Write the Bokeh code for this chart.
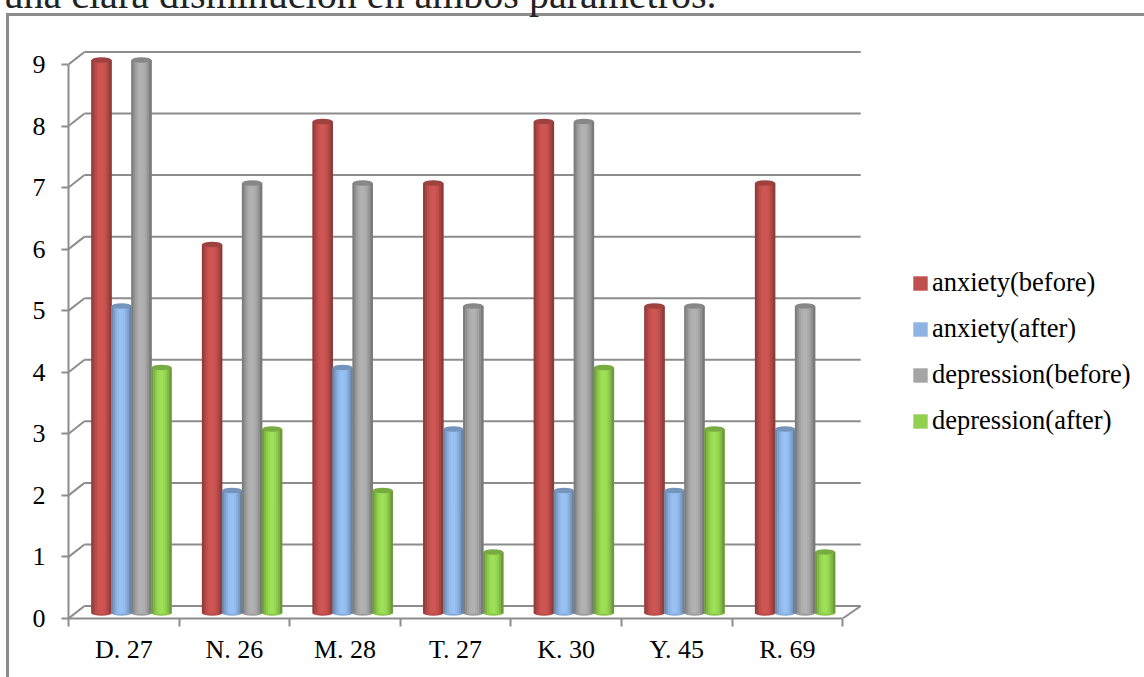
from bokeh.plotting import figure
from bokeh.embed import file_html
from bokeh.resources import INLINE
from bokeh.models import (Range1d, LinearAxis, FixedTicker, Legend, LegendItem,
                          Title, ColumnDataSource)
from bokeh.transform import dodge

categories = ["D. 27", "N. 26", "M. 28", "T. 27", "K. 30", "Y. 45", "R. 69"]
anxiety_before = [9, 6, 8, 7, 8, 5, 7]
anxiety_after = [5, 2, 4, 3, 2, 2, 3]
depression_before = [9, 7, 7, 5, 8, 5, 5]
depression_after = [4, 3, 2, 1, 4, 3, 1]
y_ticks = [0, 1, 2, 3, 4, 5, 6, 7, 8, 9]
title_text = "una clara disminución en ambos parámetros."

UP = 31                   # the canvas starts above the page so only the foot of the title shows
W, H = 1144, 677 + UP
X0, Y0 = 68, 618 + UP     # canvas position of the axes origin
FT = 47                   # top of the plotting frame on the canvas
SX, SY = 110.6, 61.56     # pixels per category / per value
GREY = "#8c8c8c"
FONT = "Liberation Serif"

p = figure(width=W, height=H, output_backend="svg", toolbar_location=None,
           x_axis_type=None, y_axis_type=None,
           min_border_left=X0, min_border_right=0, min_border_top=FT,
           min_border_bottom=H - Y0,
           x_range=Range1d(0, (W - X0) / SX), y_range=Range1d(0, (Y0 - FT) / SY),
           background_fill_alpha=0, border_fill_alpha=0,
           outline_line_color=None)
p.margin = (-UP, 0, 0, 0)
p.grid.visible = False
# the frame of the pasted picture, behind the transparent canvas
p.styles = {"background": f"linear-gradient({GREY},{GREY}) 6px {13 + UP}px/3px 100% no-repeat, "
                          f"linear-gradient({GREY},{GREY}) 6px {13 + UP}px/100% 3px no-repeat"}
p.title = Title(text=title_text, text_font=FONT, text_font_size="40px", text_font_style="normal",
                text_color="#222222", standoff=0, offset=3 - X0, align="left")

# bars stand between the front and back planes: their own scale
p.extra_y_ranges["bars"] = Range1d(-5 / 61.5, (Y0 - FT - 5) / 61.5)

# axes
yaxis = LinearAxis(ticker=FixedTicker(ticks=y_ticks), bounds=(0, 9))
xaxis = LinearAxis(
    ticker=FixedTicker(ticks=[i + 0.5 for i in range(len(categories))],
                       minor_ticks=list(range(len(categories) + 1))),
    bounds=(0, len(categories)),
    major_label_overrides={i + 0.5: c for i, c in enumerate(categories)})
for ax in (xaxis, yaxis):
    ax.axis_line_color = GREY
    ax.axis_line_width = 2
    ax.major_label_text_font = FONT
    ax.major_label_text_font_size = "26px"
    ax.major_label_text_color = "black"
yaxis.major_tick_line_color = GREY
yaxis.major_tick_line_width = 2
yaxis.major_tick_out = 7
yaxis.major_tick_in = 0
yaxis.minor_tick_line_color = None
yaxis.major_label_standoff = 16
xaxis.major_tick_line_color = None
xaxis.major_tick_out = 8
xaxis.major_tick_in = 0
xaxis.minor_tick_line_color = GREY
xaxis.minor_tick_line_width = 2
xaxis.minor_tick_out = 8
xaxis.minor_tick_in = 0
xaxis.major_label_standoff = 8
p.add_layout(xaxis, "below")
p.add_layout(yaxis, "left")

# back wall and floor
DX, DY = 16 / SX, 12.5 / SY
n = len(categories)
p.segment(x0=[0] * len(y_ticks), y0=y_ticks, x1=[DX] * len(y_ticks),
          y1=[v + DY for v in y_ticks], line_color=GREY, line_width=2)
p.segment(x0=[DX] * len(y_ticks), y0=[v + DY for v in y_ticks],
          x1=[n + DX + 2 / SX] * len(y_ticks), y1=[v + DY for v in y_ticks],
          line_color=GREY, line_width=2)
p.segment(x0=[n], y0=[0], x1=[n + DX + 2 / SX], y1=[DY], line_color=GREY, line_width=2)


def mix(c, t):
    """c * t blended channel-wise, t<1 darker, t>1 lighter."""
    r, g, b = [int(c[i:i + 2], 16) for i in (1, 3, 5)]
    f = lambda v: max(0, min(255, int(round(v * t))))
    return "#%02x%02x%02x" % (f(r), f(g), f(b))


series = [("anxiety(before)", anxiety_before, "#c0504d"),
          ("anxiety(after)", anxiety_after, "#8db4e3"),
          ("depression(before)", depression_before, "#a5a5a5"),
          ("depression(after)", depression_after, "#92d050")]

BAR = 20 / SX
START = (91 - X0) / SX
STRIPS = 10
# shading across a cylinder, from left edge to right edge
shade = [0.76, 0.88, 0.98, 1.05, 1.08, 1.08, 1.05, 0.98, 0.88, 0.74]
items = []
for k, (name, vals, col) in enumerate(series):
    src = ColumnDataSource(dict(x=list(range(n)), v=vals, zero=[0] * n))
    cx = START + (k + 0.5) * BAR
    xt = dodge("x", cx, range=p.x_range)
    p.ellipse(x=xt, y="zero", width=BAR, height=4.5 / 61.5, source=src,
              fill_color=mix(col, 0.95), line_color=None, y_range_name="bars")
    base = p.vbar(x=xt, top="v", bottom="zero", width=BAR, source=src,
                  fill_color=col, line_color=None, y_range_name="bars")
    items.append(LegendItem(label=name, renderers=[base]))
    sw = BAR / STRIPS
    for s, t in enumerate(shade):
        p.vbar(x=dodge("x", cx - BAR / 2 + (s + 0.5) * sw, range=p.x_range),
               top="v", bottom="zero", width=sw * 1.25, source=src,
               fill_color=mix(col, t), line_color=None, y_range_name="bars")
    p.ellipse(x=xt, y="v", width=BAR, height=5.5 / 61.5, source=src,
              fill_color=mix(col, 0.82), line_color=None, y_range_name="bars")

legend = Legend(items=items, location=(911 - X0, 618 - 436), orientation="vertical",
                glyph_width=18, glyph_height=18, label_standoff=3, spacing=15,
                padding=0, margin=0, background_fill_alpha=0, border_line_color=None,
                label_text_font=FONT, label_text_font_size="26.5px", label_text_color="black")
p.add_layout(legend, "center")

open("out.html", "w").write(file_html(p, INLINE))
